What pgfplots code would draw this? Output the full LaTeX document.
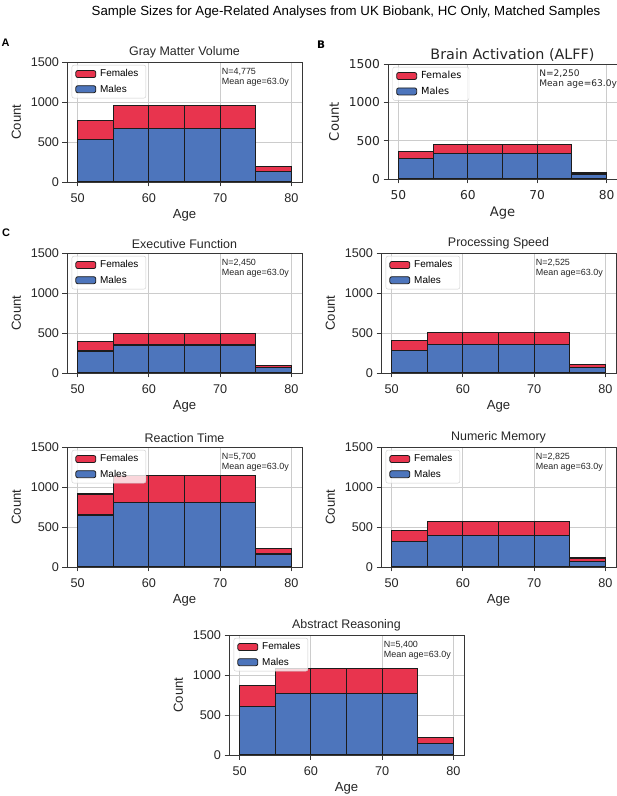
\documentclass[border=0pt]{standalone}
\usepackage{pgfplots}
\pgfplotsset{compat=1.18}
\usepackage{fontspec}
\setmainfont{Liberation Sans}
\newfontfamily\dejavu{DejaVu Sans}
\definecolor{fem}{RGB}{232,52,78}
\definecolor{mal}{RGB}{77,117,188}
\definecolor{edgec}{RGB}{28,28,28}
\definecolor{gridc}{RGB}{204,204,204}
\definecolor{framec}{RGB}{55,55,55}
\definecolor{txt}{RGB}{38,38,38}
\newcommand{\fs}[2]{\fontsize{#1}{#2}\selectfont}

\pgfplotsset{
  hist/.style={
    scale only axis,
    width=235bp, height=120bp,
    xmin=48.5, xmax=81.5, ymin=0, ymax=1500,
    xtick={50,60,70,80}, ytick={0,500,1000,1500},
    ybar stacked, bar width=5, bar shift=0pt,
    grid=major, major grid style={gridc, line width=0.8bp},
    tick pos=left, tick align=outside, major tick length=4.5bp,
    tick style={framec, line width=0.8bp},
    axis line style={framec, line width=0.9bp},
    /pgf/number format/1000 sep={},
    /pgf/number format/assume math mode=true,
    tick label style={font=\fs{12.7}{14}, text=txt},
    xticklabel style={yshift=-3.5bp},
    label style={font=\fs{13.2}{15}, text=txt},
    ylabel style={yshift=3bp},
    title style={font=\fs{12.5}{14}, text=txt, yshift=-5.5bp},
    xlabel={Age}, ylabel={Count},
    legend style={at={(0.02,0.975)}, anchor=north west, draw=gridc, rounded corners=2bp,
      fill=white, fill opacity=0.8, text opacity=1, draw opacity=1,
      font=\fs{10}{12}, inner xsep=3.5bp, inner ysep=2.5bp, row sep=2.5bp,
      nodes={inner xsep=4bp}},
    legend cell align=left,
    legend image code/.code={\draw[##1, fill opacity=1, line width=0.8bp] (0bp,-3.5bp) rectangle (20bp,3.5bp);},
    reverse legend,
  },
  mstyle/.style={fill=mal, draw=edgec, line width=1.1bp},
  fstyle/.style={fill=fem, draw=edgec, line width=1.1bp},
}

\begin{document}
\begin{tikzpicture}
\useasboundingbox (0,0) rectangle (617bp,796bp);

\node[font=\fs{13.3}{15}, text=black] at (346bp,784bp) {Sample Sizes for Age-Related Analyses from UK Biobank, HC Only, Matched Samples};
\node[font=\bfseries\fs{11}{13}] at (5.5bp,753bp) {A};
\node[font=\dejavu\bfseries\fs{10.5}{13}] at (321bp,751bp) {B};
\node[font=\bfseries\fs{11}{13}] at (6bp,563bp) {C};

% A: Gray Matter Volume
\begin{axis}[hist, at={(67bp,614bp)}, anchor=south west, title={Gray Matter Volume}]
\addplot[mstyle] coordinates {(52.5,535) (57.5,669) (62.5,669) (67.5,669) (72.5,669) (77.5,134)};
\addlegendentry{Males}
\addplot[fstyle] coordinates {(52.5,229) (57.5,286) (62.5,286) (67.5,286) (72.5,286) (77.5,57)};
\addlegendentry{Females}
\node[anchor=north west, align=left, font=\fs{9}{10}, text=txt, inner sep=0pt] at (rel axis cs:0.658,0.95) {N=4,775\\Mean age=63.0y};
\end{axis}

% B: Brain Activation (ALFF)
\begin{axis}[hist, at={(388bp,617bp)}, anchor=south west, width=229bp, height=115bp,
  title={Brain Activation (ALFF)},
  tick label style={font=\dejavu\fs{12.3}{14}},
  label style={font=\dejavu\fs{13.2}{15}},
  title style={font=\dejavu\fs{14.4}{16}, yshift=-1bp, xshift=10bp},
  legend style={font=\dejavu\fs{9.8}{12}}]
\addplot[mstyle] coordinates {(52.5,265) (57.5,333) (62.5,333) (67.5,333) (72.5,333) (77.5,65)};
\addlegendentry{Males}
\addplot[fstyle] coordinates {(52.5,95) (57.5,117) (62.5,117) (67.5,117) (72.5,117) (77.5,25)};
\addlegendentry{Females}
\node[anchor=north west, align=left, font=\dejavu\fs{9.1}{10}, text=txt, inner sep=0pt] at (rel axis cs:0.66,0.955) {N=2,250\\Mean age=63.0y};
\end{axis}

% Executive Function
\begin{axis}[hist, at={(67bp,423bp)}, anchor=south west, title={Executive Function}]
\addplot[mstyle] coordinates {(52.5,275) (57.5,350) (62.5,350) (67.5,350) (72.5,350) (77.5,64)};
\addlegendentry{Males}
\addplot[fstyle] coordinates {(52.5,117) (57.5,140) (62.5,140) (67.5,140) (72.5,140) (77.5,34)};
\addlegendentry{Females}
\node[anchor=north west, align=left, font=\fs{9}{10}, text=txt, inner sep=0pt] at (rel axis cs:0.658,0.95) {N=2,450\\Mean age=63.0y};
\end{axis}

% Processing Speed
\begin{axis}[hist, at={(381bp,423bp)}, anchor=south west, title={Processing Speed}]
\addplot[mstyle] coordinates {(52.5,283) (57.5,358) (62.5,358) (67.5,358) (72.5,358) (77.5,66)};
\addlegendentry{Males}
\addplot[fstyle] coordinates {(52.5,121) (57.5,147) (62.5,147) (67.5,147) (72.5,147) (77.5,35)};
\addlegendentry{Females}
\node[anchor=north west, align=left, font=\fs{9}{10}, text=txt, inner sep=0pt] at (rel axis cs:0.658,0.95) {N=2,525\\Mean age=63.0y};
\end{axis}

% Reaction Time
\begin{axis}[hist, at={(67bp,229bp)}, anchor=south west, title={Reaction Time}]
\addplot[mstyle] coordinates {(52.5,650) (57.5,808) (62.5,808) (67.5,808) (72.5,808) (77.5,162)};
\addlegendentry{Males}
\addplot[fstyle] coordinates {(52.5,262) (57.5,332) (62.5,332) (67.5,332) (72.5,332) (77.5,66)};
\addlegendentry{Females}
\node[anchor=north west, align=left, font=\fs{9}{10}, text=txt, inner sep=0pt] at (rel axis cs:0.658,0.95) {N=5,700\\Mean age=63.0y};
\end{axis}

% Numeric Memory
\begin{axis}[hist, at={(381bp,229bp)}, anchor=south west, title={Numeric Memory}]
\addplot[mstyle] coordinates {(52.5,321) (57.5,396) (62.5,396) (67.5,396) (72.5,396) (77.5,72)};
\addlegendentry{Males}
\addplot[fstyle] coordinates {(52.5,131) (57.5,169) (62.5,169) (67.5,169) (72.5,169) (77.5,41)};
\addlegendentry{Females}
\node[anchor=north west, align=left, font=\fs{9}{10}, text=txt, inner sep=0pt] at (rel axis cs:0.658,0.95) {N=2,825\\Mean age=63.0y};
\end{axis}

% Abstract Reasoning
\begin{axis}[hist, at={(229bp,41bp)}, anchor=south west, title={Abstract Reasoning}]
\addplot[mstyle] coordinates {(52.5,609) (57.5,769) (62.5,769) (67.5,769) (72.5,769) (77.5,149)};
\addlegendentry{Males}
\addplot[fstyle] coordinates {(52.5,255) (57.5,311) (62.5,311) (67.5,311) (72.5,311) (77.5,67)};
\addlegendentry{Females}
\node[anchor=north west, align=left, font=\fs{9}{10}, text=txt, inner sep=0pt] at (rel axis cs:0.658,0.95) {N=5,400\\Mean age=63.0y};
\end{axis}
\end{tikzpicture}
\end{document}
